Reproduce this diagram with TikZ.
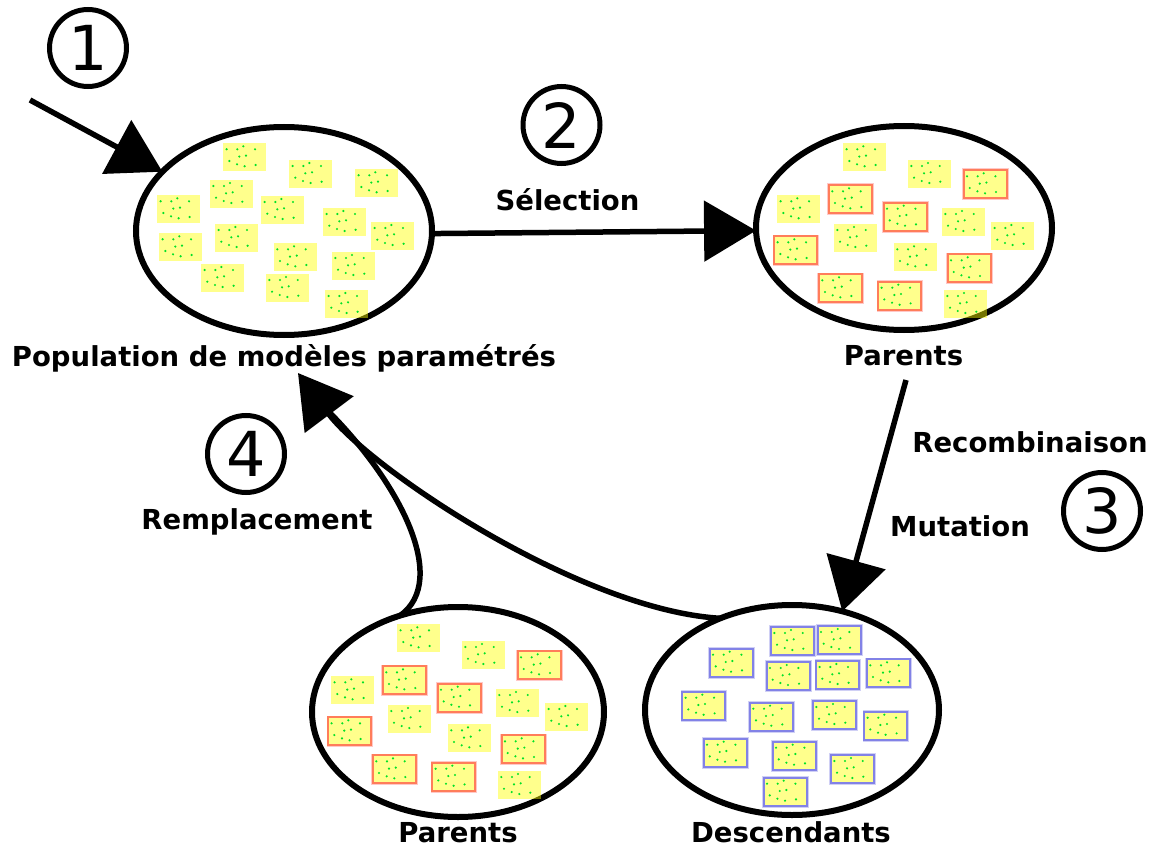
\documentclass[tikz,border=0pt]{standalone}
\usepackage{fontspec}
\setmainfont{DejaVu Sans}
\usetikzlibrary{shapes.geometric,arrows.meta}

\definecolor{cellfill}{RGB}{255,255,0}
\definecolor{dotgreen}{RGB}{0,225,40}
\definecolor{selborder}{RGB}{255,125,90}
\definecolor{selhalo}{RGB}{255,200,200}
\definecolor{offborder}{RGB}{130,130,230}
\definecolor{offhalo}{RGB}{208,208,245}

\tikzset{
  pool/.style={ellipse, draw, line width=6pt, inner sep=0pt, outer sep=0pt},
  lbl/.style={anchor=base, inner sep=0pt, font=\bfseries\fontsize{27.5}{32}\selectfont},
  stepnum/.style={circle, draw, line width=5pt, minimum size=77pt, inner sep=0pt,
                  outer sep=0pt, font=\fontsize{62}{62}\selectfont},
  flow/.style={line width=5.5pt, -{Triangle[length=52pt,width=60pt]}},
  flowjoin/.style={line width=5.5pt},
}

% ten green dots on one individual
\newcommand\celldots[2]{%
  \foreach \dx/\dy in {3.3/6,14/6,20/3,31.7/6,16/13.3,22.7/12.3,6/17.7,13.7/21,21.3/23,32.3/21.7}
    \fill[dotgreen] ({#1+\dx},{#2+\dy}) circle[radius=1.2pt];}
% plain individual
\newcommand\plaincell[2]{%
  \fill[cellfill, fill opacity=0.45] (#1,#2) rectangle ++(43,28);
  \celldots{#1}{#2}}
% framed individual: x, y, border colour, halo colour
\newcommand\ringcell[4]{%
  \draw[#4, line width=3.6pt] (#1,#2) rectangle ++(43,28);
  \fill[white] (#1,#2) rectangle ++(43,28);
  \fill[cellfill, fill opacity=0.45] (#1,#2) rectangle ++(43,28);
  \draw[#3, line width=1.7pt] (#1,#2) rectangle ++(43,28);
  \celldots{#1}{#2}}
\newcommand\selcell[2]{\ringcell{#1}{#2}{selborder}{selhalo}}
\newcommand\offcell[2]{\ringcell{#1}{#2}{offborder}{offhalo}}

% the selected parents set (used twice)
\newcommand\parentset{%
  \plaincell{843.3}{143.3}\plaincell{908}{160}\plaincell{777.3}{195.3}
  \plaincell{942}{208}\plaincell{991.3}{222}\plaincell{834}{224}
  \plaincell{894}{243.3}\plaincell{944}{290}
  \selcell{963.7}{170.3}\selcell{829}{185.3}\selcell{883.7}{202.7}
  \selcell{774.3}{236.3}\selcell{947.7}{254.3}\selcell{819}{274.3}
  \selcell{878.3}{281.7}}

\begin{document}
\begin{tikzpicture}[x=1pt, y=-1pt]
\useasboundingbox (0,0) rectangle (1157,848);

% populations
\node[pool, minimum width=296pt, minimum height=208pt] (pop) at (284,231) {};
\node[pool, minimum width=296pt, minimum height=204pt] (par) at (904,228) {};
\node[pool, minimum width=292pt, minimum height=210pt] (par2) at (458,712) {};
\node[pool, minimum width=294pt, minimum height=210pt] (desc) at (792,710) {};

% individuals of the initial population
\plaincell{223.3}{143.3}\plaincell{289.3}{160}\plaincell{355.3}{169.3}
\plaincell{210}{180}\plaincell{157.3}{195.3}\plaincell{261.3}{196}
\plaincell{323.3}{208}\plaincell{371.3}{222}\plaincell{159.3}{233.3}
\plaincell{215.3}{224}\plaincell{274}{243.3}\plaincell{332}{252}
\plaincell{201.3}{264}\plaincell{266}{274}\plaincell{325.3}{290}

% parents
\parentset
\begin{scope}[shift={(-446,481)}]
  \parentset
\end{scope}

% offspring
\offcell{771}{627}\offcell{817.7}{626}\offcell{709.7}{648.7}
\offcell{766.7}{662}\offcell{816.3}{661}\offcell{867}{659.3}
\offcell{682.3}{691.7}\offcell{750}{702.7}\offcell{813}{701}
\offcell{864.3}{711.7}\offcell{703.7}{738.7}\offcell{772.7}{741.7}
\offcell{831}{755}\offcell{763.7}{777.7}

% labels
\node[lbl] (poplbl) at (284,366) {Population de modèles paramétrés};
\node[lbl] (parlbl) at (903.5,365) {Parents};
\node[lbl] (par2lbl) at (458,842) {Parents};
\node[lbl] (desclbl) at (791,842) {Descendants};
\node[lbl] (sellbl) at (567.5,210) {Sélection};
\node[lbl] (recolbl) at (1030,452) {Recombinaison};
\node[lbl] (mutlbl) at (960,536) {Mutation};
\node[lbl] (repllbl) at (257,529) {Remplacement};

% step numbers
\node[stepnum] (n1) at (88,48) {1};
\node[stepnum] (n2) at (561.5,125) {2};
\node[stepnum] (n3) at (1102,511) {3};
\node[stepnum] (n4) at (246,454) {4};

% connectors
\coordinate (start) at (30,100);
\coordinate (varfrom) at (906,380);
\coordinate (back) at (298,373);
\coordinate (merge) at (320,403);

\draw[flow] (start) -- (pop.154);
\draw[flow] (pop.-1) -- (par.181);
\draw[flow] (varfrom) -- (desc.63);
\draw[flow] (desc.128.5) .. controls (580,610) and (370,469) .. (back);
\draw[flowjoin] (par2.121) .. controls (450,580) and (400,480) .. (merge);
\end{tikzpicture}
\end{document}
